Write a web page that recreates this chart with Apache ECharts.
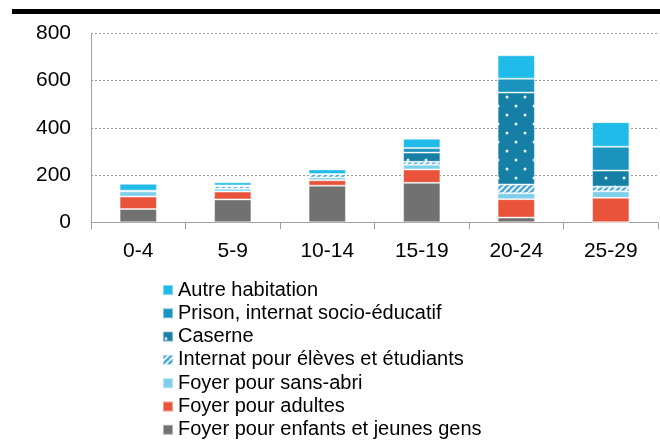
<!DOCTYPE html>
<html><head><meta charset="utf-8">
<script src="https://cdn.jsdelivr.net/npm/echarts@6/dist/echarts.min.js"></script>
<style>html,body{margin:0;padding:0;background:#fff}#c{width:660px;height:444px}</style>
</head><body><div id="c"></div>
<script>
const categories = ['0-4', '5-9', '10-14', '15-19', '20-24', '25-29'];
const enfants  = [56, 97, 155, 167, 20, 0];
const adultes  = [53, 33, 23, 57, 78, 104];
const sansAbri = [22, 12, 12, 20, 25, 27];
const internat = [3, 11, 14, 12, 37, 20];
const caserne  = [0, 0, 0, 39, 389, 68];
const prison   = [0, 3, 0, 19, 59, 101];
const autre    = [29, 13, 20, 40, 99, 104];
const yMin = 0, yMax = 800, yStep = 200;

function hatchPattern() {
  const c = document.createElement('canvas');
  c.width = 6; c.height = 6;
  const g = c.getContext('2d');
  g.fillStyle = '#4aa9d9';
  g.fillRect(0, 0, 6, 6);
  g.strokeStyle = '#ffffff';
  g.lineWidth = 1.7;
  g.beginPath();
  for (let k = -6; k <= 12; k += 6) { g.moveTo(k, 6); g.lineTo(k + 6, 0); }
  g.stroke();
  return { image: c, repeat: 'repeat' };
}
function dotPattern() {
  const c = document.createElement('canvas');
  c.width = 18; c.height = 18;
  const g = c.getContext('2d');
  g.fillStyle = '#167fa5';
  g.fillRect(0, 0, 18, 18);
  g.fillStyle = 'rgba(255,255,255,0.9)';
  [[3, 7], [12, 16]].forEach(p => { g.beginPath(); g.arc(p[0], p[1], 1.5, 0, Math.PI * 2); g.fill(); });
  return { image: c, repeat: 'repeat' };
}

const seriesDefs = [
  { name: 'Foyer pour enfants et jeunes gens', data: enfants, color: '#717171' },
  { name: 'Foyer pour adultes', data: adultes, color: '#e8533a' },
  { name: 'Foyer pour sans-abri', data: sansAbri, color: '#7dcfea' },
  { name: 'Internat pour élèves et étudiants', data: internat, color: hatchPattern() },
  { name: 'Caserne', data: caserne, color: dotPattern() },
  { name: 'Prison, internat socio-éducatif', data: prison, color: '#1b93be' },
  { name: 'Autre habitation', data: autre, color: '#20bbe9' }
];

const chart = echarts.init(document.getElementById('c'), null, { renderer: 'canvas' });
const font = 'Liberation Sans, Arial, sans-serif';
chart.setOption({
  animation: false,
  backgroundColor: '#fff',
  graphic: [{ type: 'rect', shape: { x: 12, y: 9, width: 660, height: 5 }, style: { fill: '#000' } }],
  grid: [
    { left: 91, right: 2, top: 33.3, bottom: 221.7 },
    { left: 91, right: 1, top: 33.3, bottom: 221.7 }
  ],
  legend: {
    orient: 'vertical', left: 162, top: 280, height: 200, padding: 0,
    icon: 'rect',
    itemWidth: 10, itemHeight: 10, itemGap: 3.3, itemTextGap: 5,
    data: seriesDefs.map(s => s.name).reverse(),
    textStyle: { fontFamily: font, fontSize: 20, color: '#000', lineHeight: 20 }
  },
  xAxis: [
    {
      type: 'category', data: categories, gridIndex: 0,
      axisLine: { lineStyle: { color: '#a0a0a0', width: 1 } },
      axisTick: { show: true, length: 7, lineStyle: { color: '#a0a0a0' } },
      axisLabel: { fontFamily: font, fontSize: 21, color: '#000', margin: 18 }
    },
    { type: 'value', gridIndex: 1, show: false }
  ],
  yAxis: [
    {
      type: 'value', gridIndex: 0, min: yMin, max: yMax, interval: yStep,
      axisLine: { show: true, lineStyle: { color: '#a0a0a0' } },
      axisTick: { show: false },
      splitLine: { show: false },
      axisLabel: { fontFamily: font, fontSize: 21, color: '#000', margin: 20 }
    },
    {
      type: 'value', gridIndex: 1, min: yMin, max: yMax, interval: yStep,
      axisLine: { show: false }, axisTick: { show: false }, axisLabel: { show: false },
      splitLine: { show: true, lineStyle: { color: '#999', type: [2, 2], width: 1 } }
    }
  ],
  series: seriesDefs.map(s => ({
    name: s.name, type: 'bar', stack: 'total', data: s.data,
    xAxisIndex: 0, yAxisIndex: 0,
    barWidth: '39.5%',
    itemStyle: { color: s.color, borderColor: 'rgba(255,255,255,0.45)', borderWidth: 1 }
  }))
});
</script>
</body></html>
